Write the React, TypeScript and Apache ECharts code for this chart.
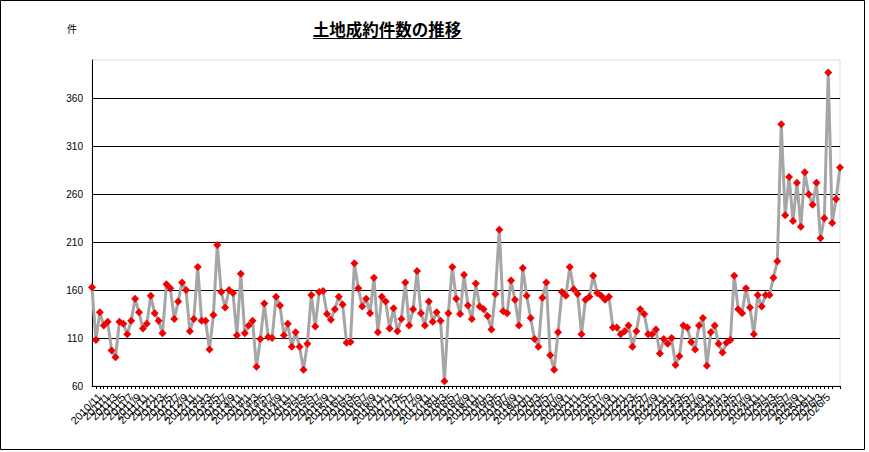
import React, { useEffect, useRef } from "react";
import * as echarts from "echarts";

const TITLE = "土地成約件数の推移";
const UNIT = "件";
const START_YEAR = 2010;
const START_MONTH = 9;

const values: number[] = [
  163, 108, 137, 123, 127, 97, 90, 127, 125, 114,
  128, 151, 137, 120, 125, 154, 136, 128, 115, 166,
  162, 130, 148, 168, 160, 117, 130, 184, 128, 128,
  98, 134, 207,
  158, 142, 160, 157, 113, 177, 115, 123, 128, 80,
  109, 146, 111, 110, 153, 144, 113, 125, 101, 116,
  101, 77, 104, 155, 122, 158, 159, 135, 129, 140,
  153, 145, 105,
  106, 188, 162, 143, 151, 136, 173, 116, 153, 148,
  120, 141, 117, 130, 168, 123, 140, 180, 136, 123,
  148, 127, 137, 128, 65, 136, 184, 151, 135, 176,
  144, 130, 167,
  143, 140, 133, 119, 156, 223, 138, 136, 170, 150,
  123, 183, 154, 131, 109, 101, 152, 168, 92, 77,
  116, 158, 154, 184, 161, 156, 114, 150, 153, 175,
  157, 154,
  150, 153, 121, 121, 114, 117, 123, 101, 117, 140,
  135, 114, 114, 119, 94, 109, 104, 110, 82, 91,
  123, 121, 106, 98, 123, 131, 81, 116, 123, 104,
  95, 105, 108, 175, 140, 136, 162,
  142, 114, 155, 143, 155, 155, 173, 190, 333, 238,
  278, 232, 272, 226, 283, 260, 249, 272, 214, 235,
  387, 230, 255, 288,
];

const Y_MIN = 60;
const Y_MAX = 400;
const Y_INTERVAL = 50;

const categories: string[] = [];
for (let i = 0; i < values.length; i++) {
  const m = START_MONTH - 1 + i;
  categories.push(`${START_YEAR + Math.floor(m / 12)}/${(m % 12) + 1}`);
}

const FONT = '"Liberation Sans", Arial, sans-serif';
const CJK = '"Noto Sans CJK JP", sans-serif';

export default function App() {
  const ref = useRef<HTMLDivElement>(null);
  useEffect(() => {
    if (!ref.current) return;
    const chart = echarts.init(ref.current, undefined, { renderer: "svg" });
    chart.setOption({
      animation: false,
      backgroundColor: "#fff",
      grid: {
        left: 92,
        right: 29,
        top: 60,
        bottom: 66,
        show: true,
        borderColor: "#d9d9d9",
        borderWidth: 1,
        backgroundColor: "transparent",
      },
      xAxis: {
        type: "category",
        data: categories,
        boundaryGap: false,
        axisLine: { lineStyle: { color: "#000", width: 1 } },
        axisTick: { show: true, interval: 0, length: 3, lineStyle: { color: "#000" } },
        axisLabel: {
          interval: 1,
          rotate: 45,
          fontSize: 11,
          color: "#000",
          fontFamily: FONT,
          margin: 9,
        },
        splitLine: { show: false },
      },
      yAxis: {
        type: "value",
        min: Y_MIN,
        max: Y_MAX,
        interval: Y_INTERVAL,
        axisLine: { show: true, lineStyle: { color: "#000", width: 1 } },
        axisTick: { show: false },
        axisLabel: {
          fontSize: 10,
          color: "#000",
          fontFamily: FONT,
          margin: 9,
          showMaxLabel: false,
        },
        splitLine: {
          show: true,
          showMinLine: false,
          showMaxLine: false,
          lineStyle: { color: "#000", width: 1 },
        },
      },
      series: [
        {
          type: "line",
          data: values,
          symbol: "diamond",
          symbolSize: 8,
          showSymbol: true,
          showAllSymbol: true,
          lineStyle: { color: "#a6a6a6", width: 3 },
          itemStyle: { color: "#f00000" },
          z: 3,
        },
      ],
      graphic: [
        {
          type: "rect",
          silent: true,
          shape: { x: 0.5, y: 0.5, width: 864, height: 449 },
          style: { fill: "none", stroke: "#000", lineWidth: 1 },
        },
        {
          type: "text",
          x: 387,
          y: 29,
          style: {
            text: TITLE,
            fill: "#000",
            fontSize: 16.5,
            fontWeight: "bold",
            fontFamily: CJK,
            textAlign: "center",
            textVerticalAlign: "middle",
          },
        },
        {
          type: "line",
          shape: { x1: 313, y1: 38.5, x2: 462, y2: 38.5 },
          style: { stroke: "#000", lineWidth: 1 },
        },
        {
          type: "text",
          x: 72,
          y: 28,
          style: {
            text: UNIT,
            fill: "#000",
            fontSize: 10,
            fontFamily: CJK,
            textAlign: "center",
            textVerticalAlign: "middle",
          },
        },
      ],
    });
    return () => chart.dispose();
  }, []);
  return (
    <div
      ref={ref}
      style={{ position: "absolute", left: 0, top: 0, width: 869, height: 452 }}
    />
  );
}
